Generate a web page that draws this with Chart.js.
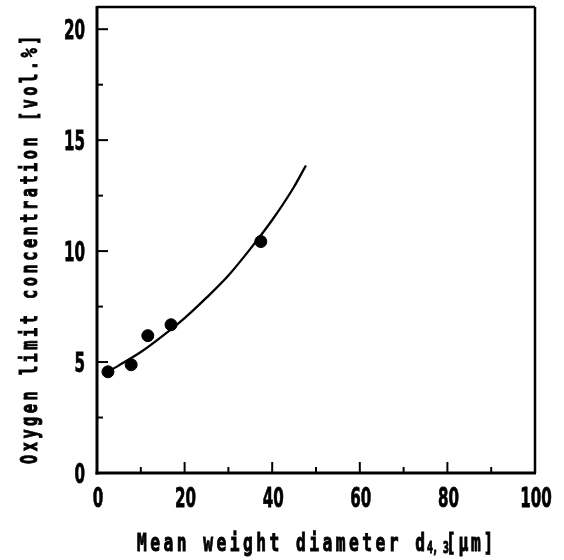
<!DOCTYPE html>
<html>
<head>
<meta charset="utf-8">
<script src="https://cdn.jsdelivr.net/npm/chart.js@4.4.0/dist/chart.umd.min.js"></script>
<style>body{margin:0;background:#fff}</style>
</head>
<body>
<canvas id="c" width="564" height="560"></canvas>
<script>
"use strict";

const measuredX = [2.5, 7.8, 11.6, 16.9, 37.4];
const measuredY = [4.56, 4.88, 6.19, 6.68, 10.43];

// fitted curve, traced by eye
const curveX = [1.5, 5, 10, 15, 20, 25, 30, 35, 40, 45, 47.7];
const curveY = [4.45, 4.85, 5.45, 6.18, 6.98, 7.9, 8.9, 10.1, 11.4, 12.9, 13.86];

const xTicks = [0, 20, 40, 60, 80, 100];
const xMinor = [10, 30, 50, 70, 90];
const yTicks = [0, 5, 10, 15, 20];
const yMinor = [2.5, 7.5, 12.5, 17.5];

const xTitle = 'Mean weight diameter d';
const xTitleSub = '4, 3';
const xTitleUnit = '[μm]';
const yTitle = 'Oxygen limit concentration [vol.%]';

const MONO = '"DejaVu Sans Mono", monospace';
const SANS = '"DejaVu Sans", sans-serif';

// squeezed glyph, slightly thickened like the scanned print
function glyph(ctx, s) {
  ctx.fillText(s, 0, 0);
  ctx.strokeText(s, 0, 0);
}

// condensed text: draw squeezed glyphs, each at a fixed pitch
function spaced(ctx, str, x, y, font, sx, pitch) {
  ctx.font = font;
  for (let i = 0; i < str.length; i++) {
    ctx.save();
    ctx.translate(x + i * pitch, y);
    ctx.scale(sx, 1);
    glyph(ctx, str[i]);
    ctx.restore();
  }
}

function squeezed(ctx, str, x, y, font, sx, align) {
  ctx.font = font;
  const w = ctx.measureText(str).width * sx;
  let left = x;
  if (align === 'center') left = x - w / 2;
  if (align === 'right') left = x - w;
  ctx.save();
  ctx.translate(left, y);
  ctx.scale(sx, 1);
  glyph(ctx, str);
  ctx.restore();
}

const frame = {
  id: 'frame',
  afterDraw(chart) {
    const { ctx, chartArea: a, scales: { x, y } } = chart;
    ctx.save();
    ctx.strokeStyle = '#000';
    ctx.fillStyle = '#000';
    const seg = (x1, y1, x2, y2) => { ctx.beginPath(); ctx.moveTo(x1, y1); ctx.lineTo(x2, y2); ctx.stroke(); };
    ctx.lineWidth = 2.5;
    seg(a.left, a.top, a.right, a.top);
    seg(a.right, a.top, a.right, a.bottom);
    ctx.lineWidth = 3;
    seg(a.left, a.top - 1, a.left, a.bottom + 1.5);
    seg(a.left - 1.5, a.bottom, a.right + 1, a.bottom);
    ctx.lineWidth = 2;
    xTicks.forEach(v => { const p = x.getPixelForValue(v); seg(p, a.bottom, p, a.bottom - 11); });
    xMinor.forEach(v => { const p = x.getPixelForValue(v); seg(p, a.bottom, p, a.bottom - 6); });
    yTicks.forEach(v => { const p = y.getPixelForValue(v); seg(a.left, p, a.left + 11, p); });
    yMinor.forEach(v => { const p = y.getPixelForValue(v); seg(a.left, p, a.left + 6, p); });

    // tick labels
    ctx.textBaseline = 'alphabetic';
    ctx.textAlign = 'left';
    ctx.lineWidth = 0.8;
    const tf = 'bold 27px ' + SANS;
    xTicks.forEach(v => squeezed(ctx, String(v), x.getPixelForValue(v) + 1, a.bottom + 34, tf, 0.56, 'center'));
    yTicks.forEach(v => squeezed(ctx, String(v), a.left - 12, y.getPixelForValue(v) + 10, tf, 0.56, 'right'));

    // x axis title with subscript
    ctx.lineWidth = 1;
    spaced(ctx, xTitle, 137, 551, 'bold 25px ' + MONO, 0.65, 13.25);
    spaced(ctx, xTitleSub, 427, 553, 'bold 15px ' + MONO, 0.65, 5.3);
    spaced(ctx, xTitleUnit, 446, 551, 'bold 25px ' + MONO, 0.65, 12.5);

    // y axis title, rotated
    ctx.save();
    ctx.translate(37, 464);
    ctx.rotate(-Math.PI / 2);
    spaced(ctx, yTitle, 0, 0, 'bold 23.5px ' + MONO, 0.65, 12.7);
    ctx.restore();
    ctx.restore();
  }
};

new Chart(document.getElementById('c'), {
  type: 'scatter',
  data: {
    datasets: [
      {
        type: 'line',
        data: curveX.map((v, i) => ({ x: v, y: curveY[i] })),
        borderColor: '#000',
        borderWidth: 2.3,
        pointRadius: 0,
        fill: false,
        cubicInterpolationMode: 'monotone'
      },
      {
        data: measuredX.map((v, i) => ({ x: v, y: measuredY[i] })),
        backgroundColor: '#000',
        borderColor: '#000',
        pointRadius: 6
      }
    ]
  },
  options: {
    responsive: false,
    animation: false,
    layout: { padding: { top: 7, right: 29, left: 0, bottom: 0 } },
    plugins: { legend: { display: false }, tooltip: { enabled: false } },
    scales: {
      x: {
        type: 'linear',
        min: 0,
        max: 100,
        grid: { display: false },
        border: { display: false },
        afterBuildTicks: s => { s.ticks = xTicks.map(v => ({ value: v })); },
        afterFit: s => { s.height = 87; s.paddingLeft = 0; s.paddingRight = 0; },
        ticks: { display: false }
      },
      y: {
        min: 0,
        max: 21,
        grid: { display: false },
        border: { display: false },
        afterBuildTicks: s => { s.ticks = yTicks.map(v => ({ value: v })); },
        afterFit: s => { s.width = 97; s.paddingTop = 0; s.paddingBottom = 0; },
        ticks: { display: false }
      }
    }
  },
  plugins: [frame]
});
</script>
</body>
</html>
